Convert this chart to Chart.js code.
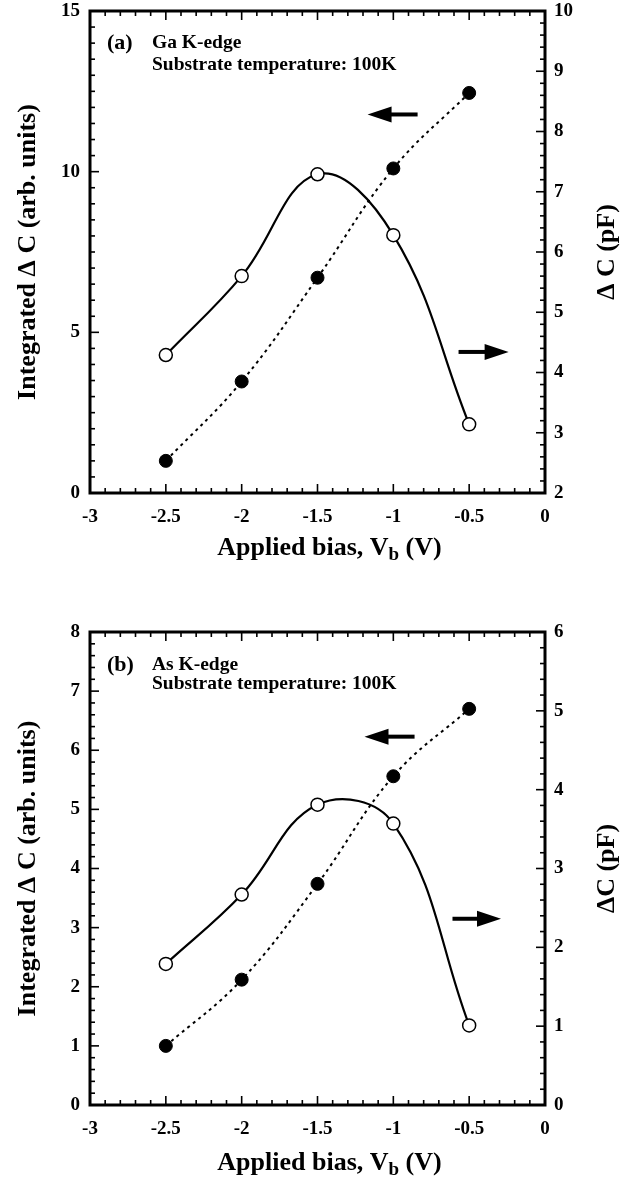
<!DOCTYPE html>
<html>
<head>
<meta charset="utf-8">
<script src="https://cdn.jsdelivr.net/npm/chart.js@4.4.1/dist/chart.umd.min.js"></script>
<style>
  body { margin: 0; background: #fff; }
  canvas { display: block; }
</style>
</head>
<body>
<canvas id="chartA" width="630" height="585"></canvas>
<canvas id="chartB" width="630" height="597"></canvas>
<script>
// applied bias (V), shared by both panels
const biasVoltages = [-2.5, -2, -1.5, -1, -0.5];
const xTickLabels = ["-3", "-2.5", "-2", "-1.5", "-1", "-0.5", "0"];

// (a) Ga K-edge
const gaIntegrated = [1.0, 3.47, 6.7, 10.1, 12.45];   // left axis, filled circles
const gaDeltaC = [4.29, 5.6, 7.29, 6.28, 3.14];       // right axis, open circles
const gaLeftTicks = ["0", "5", "10", "15"];
const gaRightTicks = ["2", "3", "4", "5", "6", "7", "8", "9", "10"];

// (b) As K-edge
const asIntegrated = [1.0, 2.12, 3.74, 5.56, 6.7];
const asDeltaC = [1.79, 2.67, 3.81, 3.57, 1.01];
const asLeftTicks = ["0", "1", "2", "3", "4", "5", "6", "7", "8"];
const asRightTicks = ["0", "1", "2", "3", "4", "5", "6"];

const FONT = "'Liberation Serif', 'Times New Roman', serif";
const TICK_FONT = { family: FONT, size: 19, weight: "bold" };

function drawInwardTicks(ctx, scale, step, majorEvery, edge, area) {
    const n = Math.round((scale.max - scale.min) / step);
    for (let i = 0; i <= n; i++) {
        const v = scale.min + i * step;
        const r = v / majorEvery;
        const major = Math.abs(r - Math.round(r)) < 1e-6;
        const len = major ? 9 : 5;
        const p = scale.getPixelForValue(v);
        ctx.beginPath();
        if (edge === "bottom") { ctx.moveTo(p, area.bottom); ctx.lineTo(p, area.bottom - len); }
        if (edge === "top") { ctx.moveTo(p, area.top); ctx.lineTo(p, area.top + len); }
        if (edge === "left") { ctx.moveTo(area.left, p); ctx.lineTo(area.left + len, p); }
        if (edge === "right") { ctx.moveTo(area.right, p); ctx.lineTo(area.right - len, p); }
        ctx.stroke();
    }
}

function drawArrow(ctx, x1, x2, y, dir) {
    const head = 24, half = 8;
    ctx.lineWidth = 4;
    ctx.beginPath();
    if (dir < 0) { ctx.moveTo(x1 + head - 2, y); ctx.lineTo(x2, y); }
    else { ctx.moveTo(x1, y); ctx.lineTo(x2 - head + 2, y); }
    ctx.stroke();
    ctx.beginPath();
    if (dir < 0) { ctx.moveTo(x1, y); ctx.lineTo(x1 + head, y - half); ctx.lineTo(x1 + head, y + half); }
    else { ctx.moveTo(x2, y); ctx.lineTo(x2 - head, y - half); ctx.lineTo(x2 - head, y + half); }
    ctx.closePath();
    ctx.fill();
}

const framePlugin = {
    id: "frame",
    afterDraw(chart, args, opts) {
        const ctx = chart.ctx;
        const area = chart.chartArea;
        const sx = chart.scales.x, yl = chart.scales.yL, yr = chart.scales.yR;
        ctx.save();
        ctx.strokeStyle = "#000";
        ctx.fillStyle = "#000";

        // box + inward ticks
        ctx.lineWidth = 1.6;
        drawInwardTicks(ctx, sx, 0.1, 0.5, "bottom", area);
        drawInwardTicks(ctx, sx, 0.1, 0.5, "top", area);
        drawInwardTicks(ctx, yl, opts.leftMinor, opts.leftMajor, "left", area);
        drawInwardTicks(ctx, yr, opts.rightMinor, 1, "right", area);
        ctx.lineWidth = 3;
        ctx.strokeRect(area.left, area.top, area.right - area.left, area.bottom - area.top);

        // arrows pointing at the axis of each curve
        const la = opts.leftArrow, ra = opts.rightArrow;
        drawArrow(ctx, sx.getPixelForValue(la[0]), sx.getPixelForValue(la[1]), yl.getPixelForValue(la[2]), -1);
        drawArrow(ctx, sx.getPixelForValue(ra[0]), sx.getPixelForValue(ra[1]), yl.getPixelForValue(ra[2]), 1);

        // panel label and notes
        ctx.textBaseline = "middle";
        ctx.textAlign = "left";
        ctx.font = "bold 22px " + FONT;
        ctx.fillText(opts.panel, area.left + 17, area.top + opts.noteY[0]);
        ctx.font = "bold 19.5px " + FONT;
        ctx.fillText(opts.notes[0], area.left + 62, area.top + opts.noteY[0]);
        ctx.fillText(opts.notes[1], area.left + 62, area.top + opts.noteY[1]);

        // axis titles
        const midY = (area.top + area.bottom) / 2;
        ctx.font = "bold 26px " + FONT;
        ctx.textAlign = "center";
        ctx.save();
        ctx.translate(28, midY);
        ctx.rotate(-Math.PI / 2);
        ctx.fillText("Integrated \u0394 C (arb. units)", 0, 0);
        ctx.restore();
        ctx.save();
        ctx.translate(607, midY);
        ctx.rotate(-Math.PI / 2);
        ctx.fillText(opts.rightTitle, 0, 0);
        ctx.restore();

        // x title with subscript b
        const t1 = "Applied bias, V", t2 = "b", t3 = " (V)";
        const big = "bold 26px " + FONT, small = "bold 19px " + FONT;
        ctx.font = big;
        const w1 = ctx.measureText(t1).width, w3 = ctx.measureText(t3).width;
        ctx.font = small;
        const w2 = ctx.measureText(t2).width;
        let x = (area.left + area.right) / 2 + 12 - (w1 + w2 + w3) / 2;
        const y = area.bottom + opts.xTitleOffset;
        ctx.textAlign = "left";
        ctx.font = big; ctx.fillText(t1, x, y); x += w1;
        ctx.font = small; ctx.fillText(t2, x, y + 7); x += w2;
        ctx.font = big; ctx.fillText(t3, x, y);
        ctx.restore();
    }
};

function noOverflow(s) {
    s.paddingTop = 0; s.paddingBottom = 0;
    s.paddingLeft = 0; s.paddingRight = 0;
}

function makeChart(id, cfg) {
    return new Chart(document.getElementById(id), {
        type: "line",
        data: {
            labels: biasVoltages,
            datasets: [
                {
                    label: "Integrated",
                    data: biasVoltages.map((v, i) => ({ x: v, y: cfg.integrated[i] })),
                    yAxisID: "yL",
                    borderColor: "#000",
                    borderWidth: 2,
                    borderDash: [3, 4],
                    tension: 0.4,
                    pointRadius: 6.5,
                    pointBackgroundColor: "#000",
                    pointBorderColor: "#000",
                    pointBorderWidth: 1
                },
                {
                    label: "DeltaC",
                    data: biasVoltages.map((v, i) => ({ x: v, y: cfg.deltaC[i] })),
                    yAxisID: "yR",
                    borderColor: "#000",
                    borderWidth: 2.2,
                    tension: 0.4,
                    pointRadius: 6.5,
                    pointBackgroundColor: "#fff",
                    pointBorderColor: "#000",
                    pointBorderWidth: 1.5
                }
            ]
        },
        options: {
            responsive: false,
            animation: false,
            events: [],
            layout: { padding: { top: cfg.top, left: 0, right: 0, bottom: 0 } },
            plugins: {
                legend: { display: false },
                tooltip: { enabled: false },
                frame: cfg.frame
            },
            scales: {
                x: {
                    type: "linear",
                    min: -3, max: 0,
                    afterFit: s => { s.height = cfg.xHeight; noOverflow(s); },
                    grid: { display: false, drawTicks: false },
                    border: { display: false },
                    ticks: {
                        stepSize: 0.5,
                        padding: 13,
                        color: "#000",
                        font: TICK_FONT,
                        callback: (v, i) => xTickLabels[i]
                    }
                },
                yL: {
                    position: "left",
                    min: cfg.leftMin, max: cfg.leftMax,
                    afterFit: s => { s.width = 90; noOverflow(s); },
                    grid: { display: false, drawTicks: false },
                    border: { display: false },
                    ticks: {
                        stepSize: cfg.leftStep,
                        padding: 10,
                        color: "#000",
                        font: TICK_FONT,
                        callback: (v, i) => cfg.leftTicks[i]
                    }
                },
                yR: {
                    position: "right",
                    min: cfg.rightMin, max: cfg.rightMax,
                    afterFit: s => { s.width = 85; noOverflow(s); },
                    grid: { display: false, drawTicks: false },
                    border: { display: false },
                    ticks: {
                        stepSize: 1,
                        padding: 9,
                        color: "#000",
                        font: TICK_FONT,
                        callback: (v, i) => cfg.rightTicks[i]
                    }
                }
            }
        },
        plugins: [framePlugin]
    });
}

makeChart("chartA", {
    integrated: gaIntegrated, deltaC: gaDeltaC,
    leftMin: 0, leftMax: 15, leftStep: 5, leftTicks: gaLeftTicks,
    rightMin: 2, rightMax: 10, rightTicks: gaRightTicks,
    top: 11, xHeight: 92,
    frame: {
        panel: "(a)", notes: ["Ga K-edge", "Substrate temperature: 100K"], noteY: [32, 54],
        rightTitle: "\u0394 C (pF)",
        leftMinor: 0.5, leftMajor: 5, rightMinor: 0.2,
        leftArrow: [-1.17, -0.84, 11.78], rightArrow: [-0.57, -0.24, 4.39],
        xTitleOffset: 55
    }
});

makeChart("chartB", {
    integrated: asIntegrated, deltaC: asDeltaC,
    leftMin: 0, leftMax: 8, leftStep: 1, leftTicks: asLeftTicks,
    rightMin: 0, rightMax: 6, rightTicks: asRightTicks,
    top: 47, xHeight: 77,
    frame: {
        panel: "(b)", notes: ["As K-edge", "Substrate temperature: 100K"], noteY: [33, 52],
        rightTitle: "\u0394C (pF)",
        leftMinor: 0.2, leftMajor: 1, rightMinor: 0.2,
        leftArrow: [-1.19, -0.86, 6.23], rightArrow: [-0.61, -0.29, 3.15],
        xTitleOffset: 58
    }
});
</script>
</body>
</html>
